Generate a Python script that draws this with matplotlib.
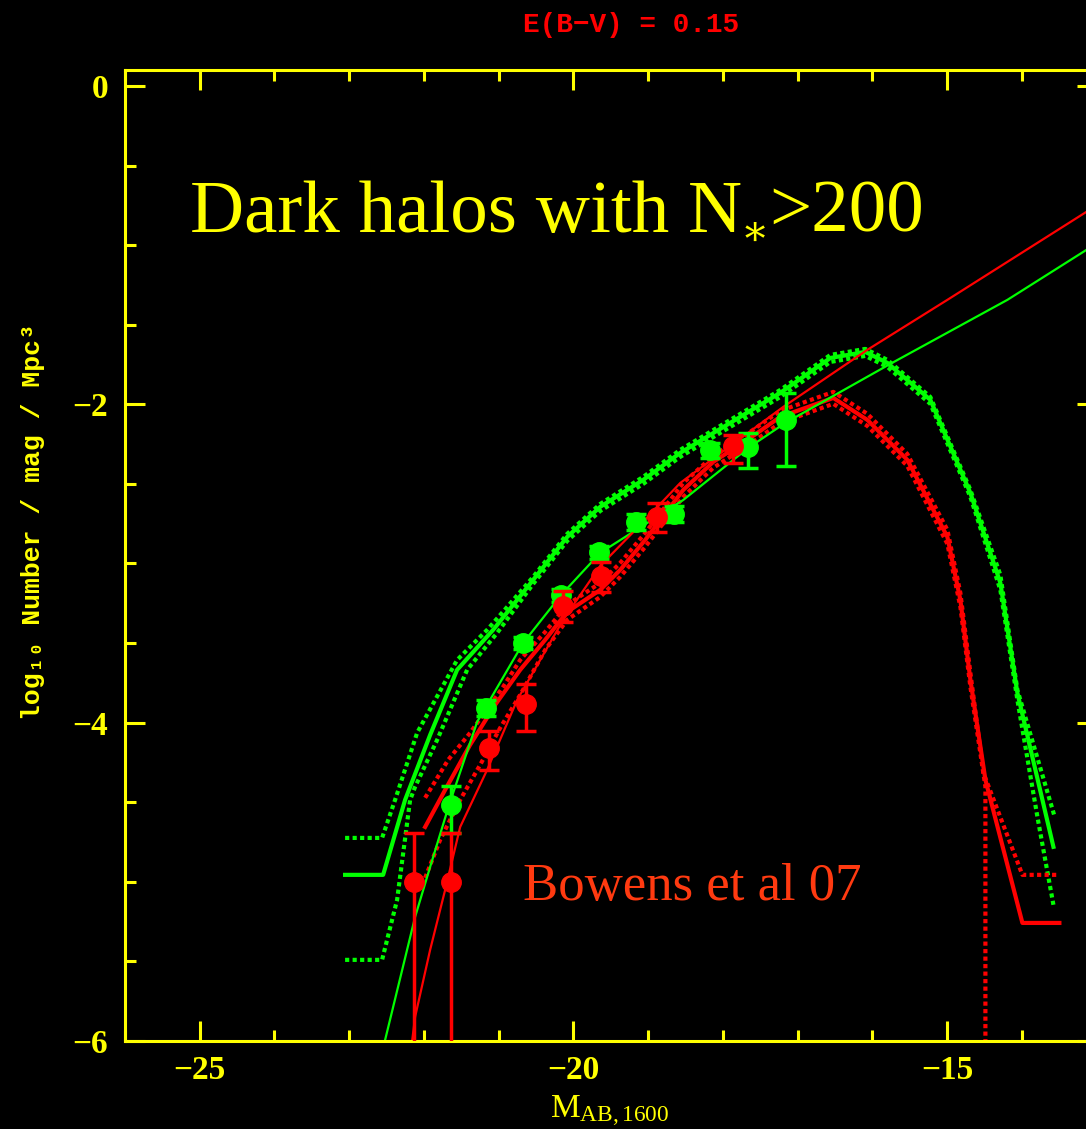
import numpy as np
import matplotlib.pyplot as plt

plt.rcParams['mathtext.fontset'] = 'custom'
plt.rcParams['mathtext.rm'] = 'Liberation Serif'
plt.rcParams['mathtext.it'] = 'Liberation Serif:italic'

YEL = '#ffff00'
GRN = '#00ff00'
RED = '#ff0000'

# Green model (solid + upper/lower dotted)
g_sol_x = [-23.055, -22.546, -22.252, -21.917, -21.556, -21.074, -20.538, -20.083, -19.641, -19.066,
           -18.570, -17.232, -16.562, -16.094, -15.799, -15.224, -14.688, -14.287, -14.059, -13.577]
g_sol_y = [-4.956, -4.956, -4.485, -4.077, -3.668, -3.417, -3.103, -2.833, -2.644, -2.475,
           -2.305, -1.928, -1.709, -1.671, -1.740, -1.972, -2.557, -3.122, -3.813, -4.780]
g_up_x = [-23.055, -22.560, -22.386, -22.091, -21.556, -21.154, -20.886, -20.538, -20.083, -19.641,
          -19.066, -18.570, -17.232, -16.562, -16.094, -15.799, -15.224, -14.688, -14.287, -14.059, -13.564]
g_up_y = [-4.724, -4.724, -4.485, -4.064, -3.606, -3.417, -3.273, -3.084, -2.814, -2.626,
          -2.456, -2.286, -1.910, -1.690, -1.652, -1.721, -1.954, -2.538, -3.072, -3.794, -4.585]
g_lo_x = [-23.055, -22.560, -22.359, -22.185, -22.118, -21.823, -21.422, -21.020, -20.538, -20.083,
          -19.641, -19.066, -18.570, -17.232, -16.562, -16.094, -15.799, -15.224, -14.688, -14.287,
          -14.059, -13.791, -13.577]
g_lo_y = [-5.490, -5.490, -5.113, -4.485, -4.403, -4.108, -3.668, -3.436, -3.128, -2.858,
          -2.670, -2.500, -2.330, -1.954, -1.734, -1.696, -1.765, -1.997, -2.582, -3.166,
          -3.857, -4.592, -5.144]

# Red model (solid + upper/lower dotted)
r_sol_x = [-21.984, -21.716, -21.382, -21.047, -20.712, -20.378, -20.083, -19.641, -19.373, -19.039,
           -18.530, -18.129, -17.673, -17.232, -16.522, -16.067, -15.532, -14.996, -14.822, -14.688,
           -14.487, -13.992, -13.497]
r_sol_y = [-4.655, -4.422, -4.139, -3.888, -3.668, -3.480, -3.304, -3.166, -3.040, -2.852,
           -2.538, -2.362, -2.224, -2.079, -1.960, -2.098, -2.349, -2.833, -3.229, -3.731,
           -4.359, -5.258, -5.258]
r_up_x = [-21.984, -21.676, -21.382, -20.940, -20.712, -20.378, -20.083, -19.641, -19.373, -19.039,
          -18.530, -18.129, -17.673, -17.232, -16.522, -16.067, -15.532, -14.996, -14.822, -14.688,
          -14.514, -13.992, -13.497]
r_up_y = [-4.472, -4.234, -4.064, -3.775, -3.606, -3.430, -3.260, -3.122, -2.996, -2.808,
          -2.494, -2.324, -2.186, -2.041, -1.922, -2.060, -2.312, -2.789, -3.185, -3.687,
          -4.315, -4.956, -4.956]
r_lo_x = [-21.984, -21.783, -21.515, -21.248, -20.980, -20.712, -20.378, -20.083, -19.641, -19.373,
          -19.039, -18.530, -18.129, -17.673, -17.232, -16.522, -16.067, -15.532, -14.996, -14.822,
          -14.688, -14.487, -14.487]
r_lo_y = [-4.975, -4.736, -4.485, -4.265, -4.033, -3.825, -3.543, -3.354, -3.210, -3.084,
          -2.896, -2.582, -2.399, -2.261, -2.117, -1.997, -2.136, -2.387, -2.877, -3.273,
          -3.775, -4.403, -7.0]

# Thin fit lines
g_fit_x = [-22.519, -22.118, -21.917, -21.663, -21.288, -20.672, -20.163, -19.641, -18.530, -17.660,
           -17.165, -15.786, -14.193, -13.135]
g_fit_y = [-5.992, -5.220, -4.906, -4.516, -3.995, -3.499, -3.197, -2.933, -2.601, -2.274,
           -2.117, -1.753, -1.344, -1.030]
r_fit_x = [-22.158, -22.118, -21.917, -21.716, -21.515, -21.154, -20.752, -20.444, -20.137, -19.641,
           -19.106, -18.570, -17.191, -16.067, -14.996, -13.135]
r_fit_y = [-6.0, -5.848, -5.427, -5.050, -4.655, -4.296, -3.857, -3.606, -3.354, -3.015,
           -2.758, -2.494, -2.016, -1.658, -1.344, -0.791]

# Data points (Bouwens et al 07)
g_x = [-21.64, -21.17, -20.67, -20.16, -19.66, -19.16, -18.66, -18.17, -17.66, -17.16]
g_y = [-4.52, -3.91, -3.50, -3.20, -2.93, -2.74, -2.69, -2.29, -2.27, -2.10]
g_elo = [0.17, 0.05, 0.04, 0.04, 0.04, 0.05, 0.05, 0.05, 0.13, 0.29]
g_ehi = [0.12, 0.05, 0.04, 0.04, 0.04, 0.05, 0.05, 0.05, 0.09, 0.17]
r_x = [-22.13, -21.64, -21.13, -20.63, -20.14, -19.63, -18.88, -17.87]
r_y = [-5.00, -5.00, -4.16, -3.88, -3.27, -3.08, -2.71, -2.26]
r_elo = [2.0, 2.0, 0.14, 0.17, 0.10, 0.10, 0.09, 0.11]
r_ehi = [0.31, 0.31, 0.11, 0.12, 0.10, 0.09, 0.09, 0.07]

fig = plt.figure(figsize=(10.86, 11.29), dpi=100, facecolor='black')
ax = fig.add_axes([0.1151, 0.0779, 0.8946, 0.8601], facecolor='black')

dot = (0, (1, 0.8))
ax.plot(g_up_x, g_up_y, color=GRN, lw=3, ls=dot)
ax.plot(g_lo_x, g_lo_y, color=GRN, lw=3, ls=dot)
ax.plot(g_sol_x, g_sol_y, color=GRN, lw=3)
ax.plot(r_up_x, r_up_y, color=RED, lw=3, ls=dot)
ax.plot(r_lo_x, r_lo_y, color=RED, lw=3, ls=dot)
ax.plot(r_sol_x, r_sol_y, color=RED, lw=3)
ax.plot(g_fit_x, g_fit_y, color=GRN, lw=1.6)
ax.plot(r_fit_x, r_fit_y, color=RED, lw=1.6)

ax.errorbar(g_x, g_y, yerr=[g_elo, g_ehi], fmt='o', color=GRN, ms=14, elinewidth=2.5,
            capsize=7, capthick=2.5, zorder=5)
ax.errorbar(r_x, r_y, yerr=[r_elo, r_ehi], fmt='o', color=RED, ms=14, elinewidth=2.5,
            capsize=7, capthick=2.5, zorder=6)

ax.set_xlim(-26, -13)
ax.set_ylim(-6, 0.1)
ax.set_xticks([-25, -20, -15])
ax.set_xticks(np.arange(-26, -12), minor=True)
ax.set_yticks([0, -2, -4, -6])
ax.set_yticks(np.arange(-6, 0.5, 0.5), minor=True)
for s in ax.spines.values():
    s.set_color(YEL)
    s.set_linewidth(2.2)
ax.tick_params(which='both', direction='in', top=True, right=True, color=YEL, width=2.2,
               labelcolor=YEL)
ax.tick_params(which='major', length=14.5)
ax.tick_params(which='minor', length=8)
ax.tick_params(axis='x', pad=10)
ax.tick_params(axis='y', pad=12)
for lab in ax.get_xticklabels() + ax.get_yticklabels():
    lab.set_family('Liberation Serif')
    lab.set_fontsize(24)
    lab.set_fontweight('bold')

fig.text(631 / 1086, 1 - 25 / 1129, 'E(B\u2212V) = 0.15', color=RED, ha='center', va='center',
         family=['Liberation Mono', 'DejaVu Sans Mono'], fontsize=20, fontweight='bold')
fig.text(33 / 1086, 1 - 522 / 1129, 'log\u2081\u2080 Number / mag / Mpc\u00b3', color=YEL,
         rotation=90, ha='center', va='center', family=['Liberation Mono', 'DejaVu Sans Mono'],
         fontsize=19, fontweight='bold')
fig.text(610 / 1086, 1 - 1118 / 1129, r'M$_{\rm AB,1600}$', color=YEL, ha='center', va='baseline',
         family='Liberation Serif', fontsize=24)

# big annotation, built in pieces so the subscript star sits low
t1 = fig.text(190 / 1086, 1 - 232 / 1129, 'Dark halos with N', color=YEL, ha='left',
              va='baseline', family='Liberation Serif', fontsize=54)
t2 = ax.annotate('\u2217', xy=(1, 0), xycoords=t1, xytext=(-1, -4), textcoords='offset points',
                 ha='left', va='bottom', color=YEL, family='DejaVu Serif', fontsize=30)
ax.annotate('>200', xy=(1, 0), xycoords=t2, xytext=(0, 4), textcoords='offset points',
            ha='left', va='bottom', color=YEL, family='Liberation Serif', fontsize=54)
fig.text(523 / 1086, 1 - 900 / 1129, 'Bowens et al 07', color='#ff3a10', ha='left',
         va='baseline', family='Liberation Serif', fontsize=38)

fig.savefig('out.png', dpi=100, facecolor='black')
